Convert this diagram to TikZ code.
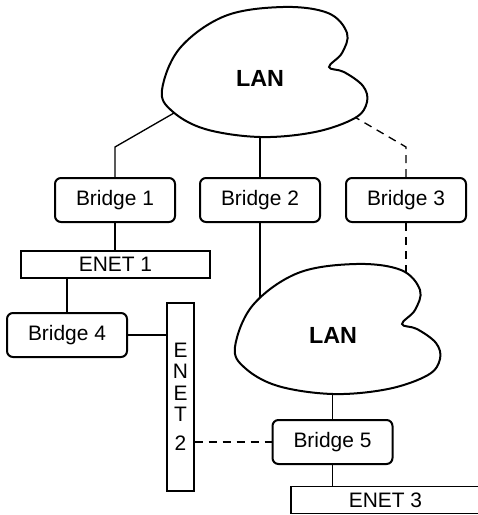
\documentclass[tikz,border=0pt]{standalone}
\usepackage{fontspec}
\setmainfont{Liberation Sans}
\usetikzlibrary{backgrounds}

\tikzset{
  bridge/.style={draw, line width=1.5pt, rounded corners=4.5pt,
    minimum width=90pt, minimum height=33pt, inner sep=0pt,
    font=\fontsize{15.7}{18}\selectfont},
  enet/.style={draw, line width=1.1pt, inner sep=0pt,
    font=\fontsize{15.7}{18}\selectfont},
  link/.style={line width=1pt},
  dashlink/.style={line width=1pt, dash pattern=on 6pt off 4.5pt},
  lan/.pic={
    \draw[line width=1.5pt, fill=white] plot[smooth cycle, tension=0.6] coordinates {
      (-98,12) (-80,-30) (-35,-62) (23,-71) (68,-65) (87,-45) (82,-25)
      (69,-11) (84,-6) (103,8) (107,24) (95,40) (55,54) (0,59)
      (-55,51) (-88,33)};
    \node[font=\fontsize{17.5}{20}\bfseries\selectfont] (-label) at (0,0) {LAN};
    % attachment points, just inside the outline
    \coordinate (-sw) at (-86,35);
    \coordinate (-s) at (0,56);
    \coordinate (-se) at (93,38);
    \coordinate (-nw) at (-73,-30);
    \coordinate (-ne) at (73,-62);
  }
}

\begin{document}
\begin{tikzpicture}[x=0.75pt, y=-0.75pt]
  \useasboundingbox (0,0) rectangle (478,515);
  \clip (0,0) rectangle (478,515);

  % the two LANs
  \pic (lan1) at (260,78) {lan};
  \pic (lan2) at (333,335) {lan};

  % bridges
  \node[bridge] (bridge1) at (115,200) {Bridge 1};
  \node[bridge] (bridge2) at (260,200) {Bridge 2};
  \node[bridge] (bridge3) at (406,200) {Bridge 3};
  \node[bridge] (bridge4) at (67,335) {Bridge 4};
  \node[bridge] (bridge5) at (332.5,442) {Bridge 5};

  % ethernet segments
  \node[enet, minimum width=141.75pt, minimum height=20pt] (enet1) at (115.5,264.5) {ENET 1};
  \node[enet, minimum width=20pt, minimum height=141pt, align=center,
    font=\fontsize{15.7}{16}\selectfont] (enet2) at (180.5,397) {E\\N\\E\\T\\[6pt]2};
  \node[enet, minimum width=141.75pt, minimum height=20pt] (enet3) at (385.5,500) {ENET 3};

  % links, kept under the clouds
  \begin{scope}[on background layer]
    \draw[link] (bridge1.north) -- ++(0,-30) -- (lan1-sw);
    \draw[link] (bridge2.north) -- (bridge2.north |- lan1-s);
    \draw[dashlink] (bridge3.north) -- ++(0,-30) -- (lan1-se);
    \draw[link] (bridge1.south) -- (bridge1.south |- enet1.north);
    \draw[link] (bridge4.north) -- (bridge4.north |- enet1.south);
    \draw[link] (bridge4.east) -- (bridge4.east -| enet2.west);
    \draw[link] (bridge2.south) -- (bridge2.south |- lan2-nw);
    \draw[dashlink] (bridge3.south) -- (bridge3.south |- lan2-ne);
    \draw[link] (bridge5.north |- lan2-s) -- (bridge5.north);
    \draw[link] (bridge5.south) -- (bridge5.south |- enet3.north);
    \draw[dashlink] (enet2.east |- bridge5.west) -- (bridge5.west);
  \end{scope}
\end{tikzpicture}
\end{document}
